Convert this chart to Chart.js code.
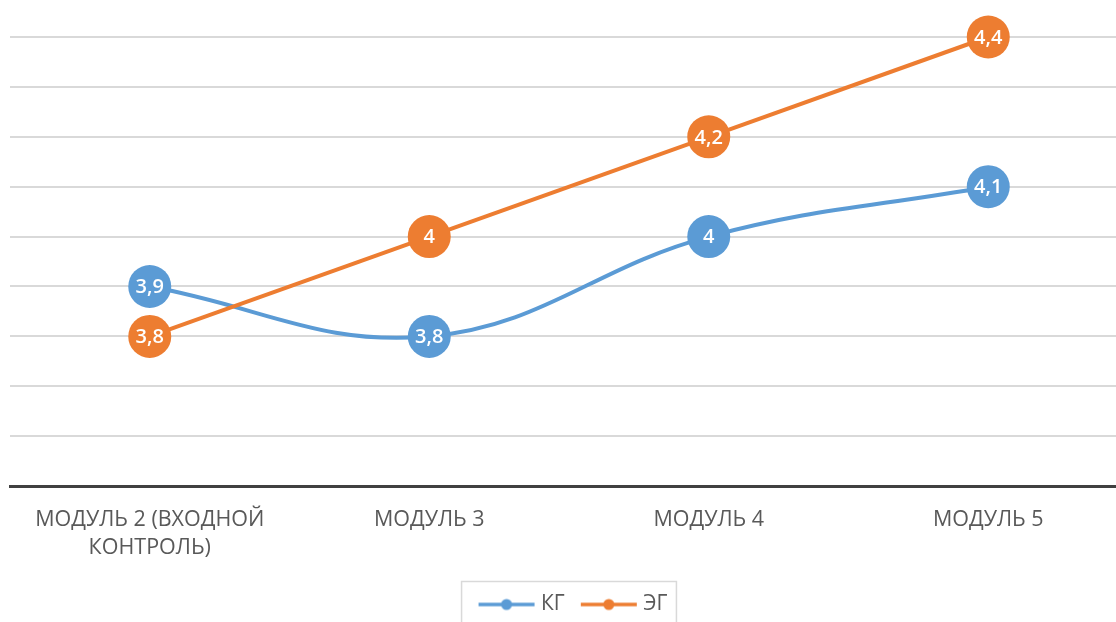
<!DOCTYPE html>
<html lang="ru">
<head>
    <meta charset="UTF-8">
    <title>Модули</title>
    <script src="https://cdn.jsdelivr.net/npm/chart.js"></script>
    <style>
        body { margin: 0; background: #fff; overflow: hidden; }
        #modChart { display: block; }
    </style>
</head>
<body>
    <canvas id="modChart" width="1128" height="625"></canvas>

    <script>
        const modules = [['МОДУЛЬ 2 (ВХОДНОЙ', 'КОНТРОЛЬ)'], 'МОДУЛЬ 3', 'МОДУЛЬ 4', 'МОДУЛЬ 5'];
        const kgValues = [3.9, 3.8, 4.0, 4.1];
        const egValues = [3.8, 4.0, 4.2, 4.4];
        const yMin = 3.5;
        const yMax = 4.4;

        const blue = '#5b9bd5';
        const orange = '#ed7d31';
        const font = '"Open Sans", "Liberation Sans", sans-serif';

        // small line-with-dot marker for the legend
        function legendMarker(color) {
            const c = document.createElement('canvas');
            c.width = 58;
            c.height = 14;
            const g = c.getContext('2d');
            g.strokeStyle = color;
            g.lineWidth = 3.5;
            g.beginPath();
            g.moveTo(1, 7);
            g.lineTo(57, 7);
            g.stroke();
            g.fillStyle = color;
            g.beginPath();
            g.arc(29, 7, 5.5, 0, Math.PI * 2);
            g.fill();
            return c;
        }

        // values written inside the point circles
        const pointLabels = {
            id: 'pointLabels',
            afterDatasetsDraw(chart) {
                const ctx = chart.ctx;
                ctx.save();
                ctx.font = '600 20px ' + font;
                ctx.fillStyle = '#fff';
                ctx.textAlign = 'center';
                ctx.textBaseline = 'middle';
                chart.data.datasets.forEach((ds, i) => {
                    chart.getDatasetMeta(i).data.forEach((pt, j) => {
                        ctx.fillText(String(ds.data[j]).replace('.', ','), pt.x, pt.y + 1);
                    });
                });
                ctx.restore();
            }
        };

        // nudge the legend a little right of the canvas centre,
        // then draw a thin frame around its items
        const legendFrame = {
            id: 'legendFrame',
            afterLayout(chart) {
                chart.legend.left += 6;
                chart.legend.right += 6;
            },
            afterDraw(chart) {
                const boxes = chart.legend.legendHitBoxes;
                if (!boxes || !boxes.length) return;
                const first = boxes[0];
                const last = boxes[boxes.length - 1];
                const left = first.left - 21;
                const right = last.left + last.width + 9;
                const top = first.top + first.height / 2 - 23;
                const ctx = chart.ctx;
                ctx.save();
                ctx.strokeStyle = '#d9d9d9';
                ctx.lineWidth = 1.5;
                ctx.strokeRect(left, top, right - left, 70);
                ctx.restore();
            }
        };

        new Chart(document.getElementById('modChart'), {
            type: 'line',
            data: {
                labels: modules,
                datasets: [{
                    label: 'КГ',
                    data: kgValues,
                    borderColor: blue,
                    backgroundColor: blue,
                    borderWidth: 4,
                    tension: 0.4,
                    pointRadius: 21.5,
                    pointHoverRadius: 21.5,
                    pointBorderWidth: 0,
                    pointStyle: 'circle',
                    clip: false,
                    order: 1
                }, {
                    label: 'ЭГ',
                    data: egValues,
                    borderColor: orange,
                    backgroundColor: orange,
                    borderWidth: 4,
                    tension: 0,
                    pointRadius: 21.5,
                    pointHoverRadius: 21.5,
                    pointBorderWidth: 0,
                    pointStyle: 'circle',
                    clip: false,
                    order: 0
                }]
            },
            options: {
                responsive: false,
                animation: false,
                layout: {
                    autoPadding: false,
                    padding: { top: 37, left: 10, right: 0, bottom: 0 }
                },
                plugins: {
                    tooltip: { enabled: false },
                    legend: {
                        position: 'bottom',
                        labels: {
                            color: '#595959',
                            font: { family: font, size: 21 },
                            usePointStyle: true,
                            pointStyleWidth: 48,
                            padding: 20,
                            generateLabels(chart) {
                                return chart.data.datasets.map((ds, i) => ({
                                    text: ds.label,
                                    fontColor: '#595959',
                                    pointStyle: legendMarker(ds.borderColor),
                                    lineWidth: 0,
                                    datasetIndex: i
                                }));
                            }
                        }
                    }
                },
                scales: {
                    x: {
                        offset: true,
                        grid: { display: false },
                        border: { color: '#404040', width: 3 },
                        ticks: {
                            color: '#595959',
                            font: { family: font, size: 21.5, lineHeight: 1.3 },
                            padding: 12,
                            maxRotation: 0
                        }
                    },
                    y: {
                        min: yMin,
                        max: yMax,
                        border: { display: false },
                        grid: { color: '#d9d9d9', lineWidth: 2, drawTicks: false },
                        ticks: { display: false, stepSize: 0.1 }
                    }
                }
            },
            plugins: [pointLabels, legendFrame]
        });
    </script>
</body>
</html>
